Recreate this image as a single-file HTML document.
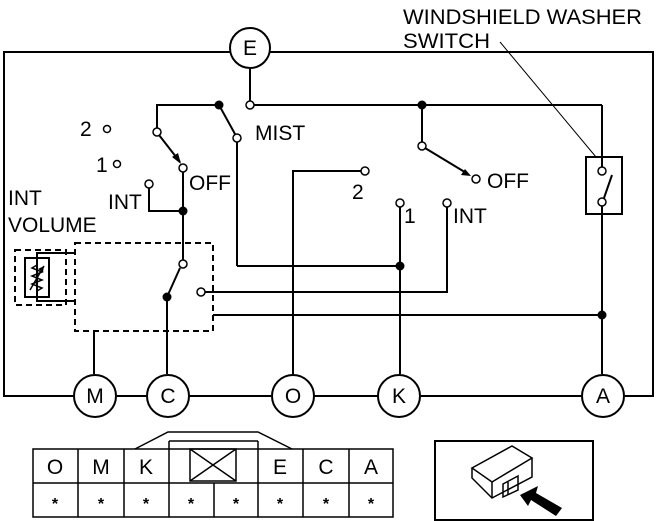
<!DOCTYPE html>
<html><head><meta charset="utf-8"><style>
html,body{margin:0;padding:0;background:#fff}
svg{display:block}
text{font-family:"Liberation Sans",Arial,sans-serif;fill:#000}
</style></head><body>
<svg width="659" height="521" viewBox="0 0 659 521" xmlns="http://www.w3.org/2000/svg">
<g stroke="#000" stroke-width="2" fill="none">
<polyline points="230,52 4,52 4,396 73,396"/>
<polyline points="270,52 653,52 653,396 625,396"/>
<line x1="117" y1="396" x2="146" y2="396"/>
<line x1="189" y1="396" x2="271" y2="396"/>
<line x1="314" y1="396" x2="378" y2="396"/>
<line x1="421" y1="396" x2="581" y2="396"/>
<line x1="250" y1="69" x2="250" y2="101"/>
<line x1="254" y1="105" x2="602" y2="105"/>
<line x1="602" y1="105" x2="602" y2="167"/>
<line x1="602" y1="206" x2="602" y2="374"/>
<polyline points="219,105 157,105 157,128"/>
<line x1="219" y1="105" x2="235" y2="134"/>
<line x1="237" y1="142" x2="237" y2="266"/>
<line x1="237" y1="266" x2="400" y2="266"/>
<line x1="159" y1="135" x2="180" y2="162"/>
<line x1="183" y1="172" x2="183" y2="260"/>
<polyline points="149,188 149,211 183,211"/>
<line x1="180" y1="268" x2="167" y2="297"/>
<line x1="167" y1="297" x2="167" y2="374"/>
<polyline points="205,292 447,292 447,207"/>
<line x1="213" y1="315" x2="602" y2="315"/>
<line x1="94" y1="331" x2="94" y2="374"/>
<polyline points="293,374 293,171 361,171"/>
<line x1="400" y1="207" x2="400" y2="374"/>
<line x1="422" y1="105" x2="422" y2="142"/>
<line x1="425" y1="148" x2="468" y2="174"/>
<rect x="586" y="157" width="36" height="57"/>
<line x1="604" y1="198" x2="612" y2="175"/>
<rect x="25" y="258" width="24" height="39"/>
<polyline points="75,253 37,253 37,301 75,301" />
<circle cx="250" cy="48" r="20"/>
<circle cx="95" cy="396" r="21"/>
<circle cx="168" cy="396" r="21"/>
<circle cx="293" cy="396" r="21"/>
<circle cx="399" cy="396" r="21"/>
<circle cx="603" cy="396" r="21"/>
</g>
<g stroke="#000" stroke-width="2" fill="none" stroke-dasharray="6,4">
<rect x="75" y="243" width="138" height="88"/>
<rect x="15" y="250" width="51" height="55"/>
</g>
<polyline points="37,265 32,268 42,272 32,276 42,280 32,284 42,288 37,291" stroke="#000" stroke-width="1.5" fill="none"/>
<line x1="30" y1="290" x2="44" y2="266" stroke="#000" stroke-width="1.5"/>
<polygon points="44,266 38,269 43,272" fill="#000"/>
<line x1="500" y1="42" x2="596" y2="157" stroke="#000" stroke-width="1"/>
<polygon points="181,164 172,157 178,153" fill="#000"/>
<polygon points="471,176 461,175 465,169" fill="#000"/>
<g fill="#000">
<circle cx="219" cy="105" r="4.5"/><circle cx="422" cy="105" r="4.5"/>
<circle cx="183" cy="211" r="4.5"/><circle cx="167" cy="297" r="4.5"/>
<circle cx="400" cy="266" r="4.5"/><circle cx="602" cy="315" r="4.5"/>
</g>
<g fill="#fff" stroke="#000" stroke-width="1.5">
<circle cx="250" cy="105" r="4"/><circle cx="157" cy="132" r="4"/>
<circle cx="237" cy="138" r="4"/><circle cx="183" cy="168" r="4"/>
<circle cx="149" cy="184" r="4"/><circle cx="183" cy="264" r="4"/>
<circle cx="201" cy="292" r="4"/><circle cx="365" cy="171" r="4"/>
<circle cx="400" cy="203" r="4"/><circle cx="447" cy="203" r="4"/>
<circle cx="422" cy="146" r="4"/><circle cx="476" cy="179" r="4"/>
<circle cx="602" cy="171" r="4"/><circle cx="602" cy="202" r="4"/>
<circle cx="107" cy="129" r="3.5"/><circle cx="117" cy="164" r="3.5"/>
</g>
<g font-size="21">
<text x="250" y="55" text-anchor="middle">E</text>
<text x="95" y="403" text-anchor="middle">M</text>
<text x="168" y="403" text-anchor="middle">C</text>
<text x="293" y="403" text-anchor="middle">O</text>
<text x="399" y="403" text-anchor="middle">K</text>
<text x="603" y="403" text-anchor="middle">A</text>
<text x="255" y="140">MIST</text>
<text x="189" y="190">OFF</text>
<text x="487" y="188">OFF</text>
<text x="80" y="136">2</text>
<text x="96" y="172">1</text>
<text x="108" y="209">INT</text>
<text x="8" y="205">INT</text>
<text x="8" y="232">VOLUME</text>
<text x="352" y="199">2</text>
<text x="404" y="223">1</text>
<text x="453" y="223">INT</text>
<text x="403" y="24" textLength="239" lengthAdjust="spacingAndGlyphs">WINDSHIELD WASHER</text>
<text x="403" y="48" textLength="87" lengthAdjust="spacingAndGlyphs">SWITCH</text>
</g>
<g stroke="#000" stroke-width="1.5" fill="none">
<rect x="33" y="449" width="360" height="68"/>
<line x1="33" y1="483" x2="393" y2="483"/>
<line x1="78" y1="449" x2="78" y2="517"/>
<line x1="124" y1="449" x2="124" y2="517"/>
<line x1="169" y1="441" x2="169" y2="517"/>
<line x1="214" y1="483" x2="214" y2="517"/>
<line x1="258" y1="441" x2="258" y2="517"/>
<line x1="303" y1="449" x2="303" y2="517"/>
<line x1="349" y1="449" x2="349" y2="517"/>
<line x1="169" y1="441" x2="258" y2="441"/>
<polyline points="135,449 168,432 258,432 292,449"/>
<rect x="190" y="449" width="46" height="32"/>
<line x1="190" y1="449" x2="236" y2="481"/>
<line x1="236" y1="449" x2="190" y2="481"/>
<rect x="435" y="441" width="158" height="79" stroke-width="2"/>
<polygon points="472,468 512,446 532,458 492,482"/>
<polyline points="472,468 472,478 492,498 532,477 532,458"/>
<line x1="492" y1="482" x2="492" y2="498"/>
<polygon points="503,484 518,476 518,490 503,497"/>
<line x1="508" y1="482" x2="508" y2="495"/>
</g>
<polygon points="520,495 538,486 536,493 562,508 556,516 531,500 528,506" fill="#000"/>
<g font-size="21" text-anchor="middle">
<text x="55" y="474">O</text><text x="101" y="474">M</text><text x="146" y="474">K</text>
<text x="280" y="474">E</text><text x="326" y="474">C</text><text x="371" y="474">A</text>
</g>
<g font-size="16" font-weight="bold" text-anchor="middle">
<text x="55" y="509">*</text><text x="101" y="509">*</text><text x="146" y="509">*</text>
<text x="191" y="509">*</text><text x="236" y="509">*</text><text x="280" y="509">*</text>
<text x="326" y="509">*</text><text x="371" y="509">*</text>
</g>
</svg>
</body></html>
